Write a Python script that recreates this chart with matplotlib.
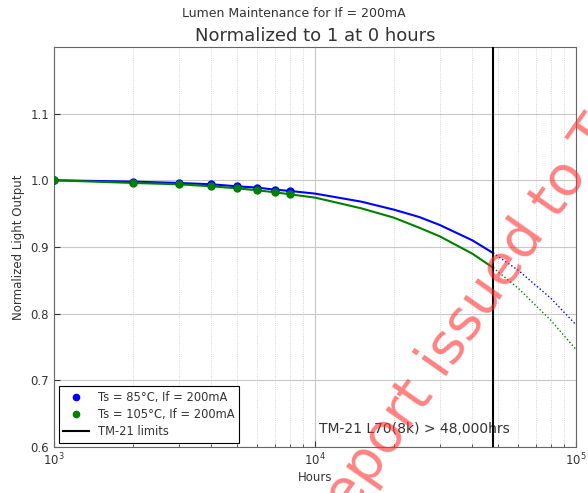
import numpy as np
import matplotlib
matplotlib.use("Agg")
import matplotlib.pyplot as plt
import matplotlib.ticker as ticker

# ── Data ────────────────────────────────────────────────────────────────────
hours_meas = [1000, 2000, 3000, 4000, 5000, 6000, 7000, 8000]
lm_85 = [1.000, 0.998, 0.996, 0.994, 0.991, 0.989, 0.986, 0.984]
lm_105 = [1.000, 0.996, 0.994, 0.991, 0.988, 0.985, 0.982, 0.979]

# projected (fit) curve up to the TM-21 limit
hours_fit = [8000, 10000, 15000, 20000, 25000, 30000, 40000, 48000]
fit_85 = [0.984, 0.980, 0.968, 0.956, 0.945, 0.933, 0.910, 0.891]
fit_105 = [0.979, 0.974, 0.958, 0.944, 0.929, 0.916, 0.890, 0.869]

# extrapolation beyond the limit
hours_ext = [48000, 60000, 80000, 100000]
ext_85 = [0.891, 0.865, 0.823, 0.783]
ext_105 = [0.869, 0.838, 0.790, 0.746]

tm21_limit = 48000
y_ticks = [0.6, 0.7, 0.8, 0.9, 1.0, 1.1]

BLUE = "#0000ff"
GREEN = "#007f00"
TXT = "#333333"

plt.rcParams.update({
    "font.family": "DejaVu Sans",
    "text.color": TXT,
    "axes.labelcolor": TXT,
    "xtick.color": TXT,
    "ytick.color": TXT,
})

fig = plt.figure(figsize=(5.88, 4.93), dpi=100)
ax = fig.add_axes([0.092, 0.093, 0.888, 0.812])

ax.plot(hours_meas + hours_fit[1:], lm_85 + fit_85[1:], color=BLUE, lw=1.5, zorder=3)
ax.plot(hours_meas + hours_fit[1:], lm_105 + fit_105[1:], color=GREEN, lw=1.5, zorder=3)
ax.plot(hours_ext, ext_85, color=BLUE, lw=1.0, ls=":", zorder=3)
ax.plot(hours_ext, ext_105, color=GREEN, lw=1.0, ls=":", zorder=3)
ax.plot(hours_meas, lm_85, "o", color=BLUE, ms=5, zorder=4)
ax.plot(hours_meas, lm_105, "o", color=GREEN, ms=5, zorder=5)
ax.axvline(tm21_limit, color="black", lw=1.5, zorder=4)

ax.set_xscale("log")
ax.set_xlim(1e3, 1e5)
ax.set_ylim(0.6, 1.2)
ax.set_yticks(y_ticks)
ax.yaxis.set_major_formatter(ticker.FormatStrFormatter("%.1f"))
ax.tick_params(labelsize=8.5, direction="in", length=4)
ax.tick_params(which="minor", direction="in", length=2)

ax.grid(True, which="major", color="#c8c8c8", lw=0.8, ls="-")
ax.grid(True, which="minor", color="#c8c8c8", lw=0.6, ls=":")
for s in ax.spines.values():
    s.set_color("#666666")

ax.set_xlabel("Hours", fontsize=8.5, labelpad=2)
ax.set_ylabel("Normalized Light Output", fontsize=8.5)
ax.set_title("Normalized to 1 at 0 hours", fontsize=13, pad=4)
fig.suptitle("Lumen Maintenance for If = 200mA", fontsize=9, y=0.985)

ax.text(1.03e4, 0.616, "TM-21 L70(8k) > 48,000hrs", fontsize=10, ha="left", va="bottom")

handles = [
    plt.Line2D([0], [0], marker="o", color=BLUE, ls="none", ms=4.5, label="Ts = 85°C, If = 200mA"),
    plt.Line2D([0], [0], marker="o", color=GREEN, ls="none", ms=4.5, label="Ts = 105°C, If = 200mA"),
    plt.Line2D([0], [0], color="black", lw=1.5, label="TM-21 limits"),
]
leg = ax.legend(handles=handles, loc="lower left", fontsize=8.3, framealpha=1,
                edgecolor="black", fancybox=False, borderaxespad=0.4,
                handlelength=2.2, labelspacing=0.35)
leg.get_frame().set_linewidth(0.8)
leg.set_zorder(6)

# watermark
fig.text(0.558, -0.106, "Report issued to T", fontsize=40, color="#ff3030", alpha=0.6,
         rotation=55, rotation_mode="anchor", ha="left", va="baseline", zorder=10)

fig.savefig("out.png", dpi=100)
